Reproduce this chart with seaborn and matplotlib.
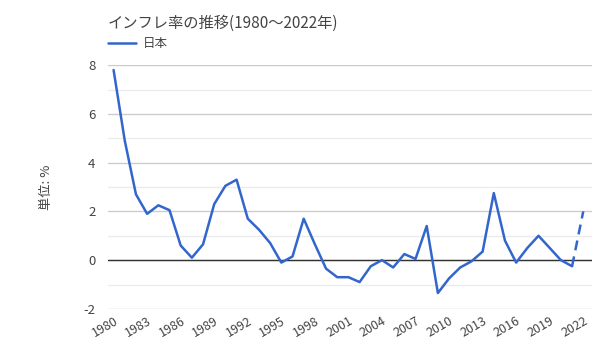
import matplotlib
matplotlib.use("Agg")
import matplotlib.pyplot as plt
import seaborn as sns
import pandas as pd

years = list(range(1980, 2023))
inflation = [7.8, 4.9, 2.7, 1.9, 2.25, 2.05, 0.6, 0.1, 0.65, 2.3,
             3.05, 3.3, 1.7, 1.25, 0.7, -0.1, 0.15, 1.7, 0.65, -0.35,
             -0.7, -0.7, -0.9, -0.25, 0.0, -0.3, 0.25, 0.05, 1.4, -1.35,
             -0.75, -0.3, -0.05, 0.35, 2.75, 0.8, -0.1, 0.5, 1.0, 0.5,
             0.0, -0.25, 2.0]
series_name = "日本"
title = "インフレ率の推移(1980〜2022年)"
ylabel = "単位: %"
xticks = list(range(1980, 2023, 3))
yticks = [-2, 0, 2, 4, 6, 8]

sns.set_theme(style="white")
plt.rcParams['font.family'] = ['Noto Sans CJK JP', 'DejaVu Sans']

df = pd.DataFrame({"year": years, "value": inflation})
solid = df[df.year <= 2021]
dashed = df[df.year >= 2021]

color = "#3366cc"
txt = "#444444"
fig = plt.figure(figsize=(6, 3.6), dpi=100)
ax = fig.add_axes([0.18, 0.142, 0.807, 0.677])

for v in range(-2, 9):
    ax.axhline(v, color="#cccccc" if v % 2 == 0 else "#ebebeb", lw=1, zorder=0)
ax.axhline(0, color="#333333", lw=1, zorder=1)

sns.lineplot(data=solid, x="year", y="value", ax=ax, color=color, lw=1.8, label=series_name)
sns.lineplot(data=dashed, x="year", y="value", ax=ax, color=color, lw=1.8, linestyle=(0, (4, 2.5)))

ax.set_xlim(1979.5, 2022.8)
ax.set_ylim(-2, 8)
ax.set_xticks(xticks)
ax.set_xticklabels([str(x) for x in xticks], rotation=30, ha="right", rotation_mode="anchor",
                   fontsize=9, color=txt)
ax.set_yticks(yticks)
ax.set_yticklabels([str(y) for y in yticks], fontsize=9.5, color=txt)
ax.tick_params(axis="both", length=0, pad=9)
ax.tick_params(axis="x", pad=4)
for s in ax.spines.values():
    s.set_visible(False)
ax.set_xlabel("")
ax.set_ylabel(ylabel, fontsize=9.5, color=txt, labelpad=22)

fig.text(0.18, 0.935, title, fontsize=11, color=txt, va="center")
leg = ax.legend(loc="upper left", bbox_to_anchor=(0.18, 0.897), bbox_transform=fig.transFigure,
                frameon=False, fontsize=9, handlelength=2.2, handletextpad=0.6, borderaxespad=0,
                borderpad=0)
for t in leg.get_texts():
    t.set_color(txt)

fig.savefig("out.png", dpi=100)
